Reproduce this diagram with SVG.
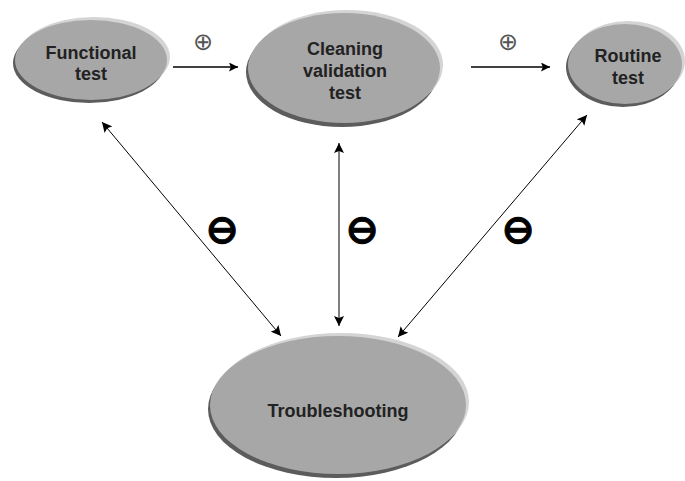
<svg xmlns="http://www.w3.org/2000/svg" width="685" height="481" viewBox="0 0 685 481">
<style>
.dk{fill:#5c5c5c}
.lt{fill:#d4d4d4}
.mn{fill:#a7a7a7}
.lbl{font-family:"Liberation Sans",Arial,sans-serif;font-weight:bold;font-size:18px;fill:#222;text-anchor:middle}
.conn{stroke:#000;stroke-width:1;fill:none}
.harr{stroke:#000;stroke-width:1.6;fill:none}
.plus{font-family:"DejaVu Sans",sans-serif;font-size:24px;fill:#555;text-anchor:middle}
.minus{font-family:"DejaVu Sans",sans-serif;font-size:40px;font-weight:bold;fill:#000;stroke:#000;stroke-width:1;text-anchor:middle}
</style>
<defs>
<marker id="ah" viewBox="0 0 10 10" refX="10" refY="5" markerWidth="10" markerHeight="10" markerUnits="userSpaceOnUse" orient="auto-start-reverse">
<path d="M0,0 L10,5 L0,10 L2,5 Z" fill="#000"/>
</marker>
<marker id="ah2" viewBox="0 0 10 10" refX="10" refY="5" markerWidth="9" markerHeight="9" markerUnits="userSpaceOnUse" orient="auto">
<path d="M0,0 L10,5 L0,10 L2,5 Z" fill="#000"/>
</marker>
</defs>
<rect width="685" height="481" fill="#fff"/>
<g id="connectors">
<line class="harr" x1="173" y1="67" x2="238" y2="67" marker-end="url(#ah2)"/>
<line class="harr" x1="471" y1="67" x2="550" y2="67" marker-end="url(#ah2)"/>
<line class="conn" x1="102" y1="122" x2="281" y2="336" marker-start="url(#ah)" marker-end="url(#ah)"/>
<line class="conn" x1="339" y1="143" x2="339" y2="326" stroke-width="1.5" marker-start="url(#ah)" marker-end="url(#ah)"/>
<line class="conn" x1="587" y1="115" x2="398" y2="337" marker-start="url(#ah)" marker-end="url(#ah)"/>
<text class="plus" x="203" y="50">⊕</text>
<text class="plus" x="508" y="50">⊕</text>
<text class="minus" x="222" y="243">⊖</text>
<text class="minus" x="362" y="243">⊖</text>
<text class="minus" x="518" y="243">⊖</text>
</g>
<g id="functional">
<ellipse class="dk" cx="89" cy="63" rx="76" ry="40"/>
<ellipse class="lt" cx="94" cy="57" rx="76" ry="40"/>
<ellipse class="mn" cx="91" cy="60" rx="76" ry="40"/>
<text class="lbl" x="91" y="59">Functional</text>
<text class="lbl" x="91" y="80">test</text>
</g>
<g id="cleaning">
<ellipse class="dk" cx="342" cy="72" rx="96" ry="55"/>
<ellipse class="lt" cx="347" cy="65" rx="96" ry="55"/>
<ellipse class="mn" cx="344" cy="68" rx="96" ry="55"/>
<text class="lbl" x="345" y="55">Cleaning</text>
<text class="lbl" x="345" y="77">validation</text>
<text class="lbl" x="345" y="99">test</text>
</g>
<g id="routine">
<ellipse class="dk" cx="623" cy="67" rx="57" ry="40"/>
<ellipse class="lt" cx="628" cy="61" rx="57" ry="40"/>
<ellipse class="mn" cx="625" cy="64" rx="57" ry="40"/>
<text class="lbl" x="628" y="62">Routine</text>
<text class="lbl" x="628" y="84">test</text>
</g>
<g id="troubleshooting">
<ellipse class="dk" cx="336" cy="409" rx="128" ry="69"/>
<ellipse class="lt" cx="341" cy="402" rx="128" ry="69"/>
<ellipse class="mn" cx="338" cy="405" rx="128" ry="69"/>
<text class="lbl" x="338" y="417">Troubleshooting</text>
</g>
</svg>
